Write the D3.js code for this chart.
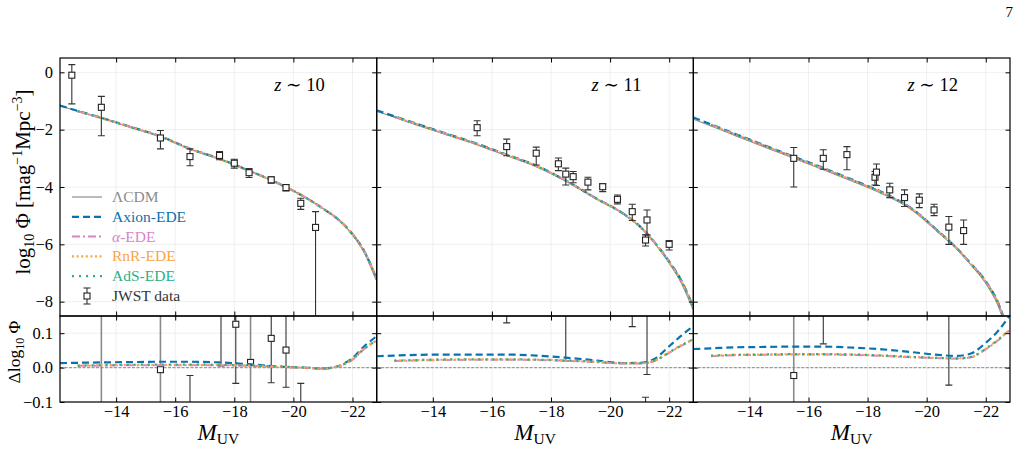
<!DOCTYPE html>
<html>
<head>
<meta charset="utf-8">
<script src="https://cdn.jsdelivr.net/npm/d3@7"></script>
<style>
  body { margin: 0; background: #fff; }
  svg text { font-family: "Liberation Serif", "DejaVu Serif", serif; }
</style>
</head>
<body>
<svg id="fig" width="1022" height="476"></svg>
<script>
// ---- data ----
const mGrid = [-12.1, -12.7, -13.5, -14.5, -15.5, -16.5, -17.5, -18.5, -19.5, -20.5, -21, -21.5, -22, -22.4, -22.8];

const lcdm10 = [-1.17, -1.36, -1.6, -1.92, -2.25, -2.68, -3.03, -3.44, -3.88, -4.42, -4.75, -5.12, -5.67, -6.3, -7.25];
const lcdm11 = [-1.36, -1.57, -1.85, -2.19, -2.53, -2.91, -3.29, -3.8, -4.4, -4.98, -5.38, -5.95, -6.66, -7.33, -8.26];
const lcdm12 = [-1.63, -1.87, -2.2, -2.6, -3.0, -3.4, -3.81, -4.24, -4.8, -5.68, -6.15, -6.72, -7.36, -8.1, -9.3];

// delta log10 Phi relative to LCDM
const dAxion10 = [0.013, 0.014, 0.015, 0.016, 0.017, 0.017, 0.015, 0.01, 0.003, -0.001, -0.003, 0.004, 0.028, 0.062, 0.09];
const dAlpha10 = [null, 0.005, 0.006, 0.007, 0.007, 0.007, 0.007, 0.005, 0.002, -0.001, -0.003, 0.003, 0.023, 0.054, 0.077];
const dRnr10   = [null, 0.006, 0.007, 0.008, 0.008, 0.008, 0.008, 0.006, 0.002, -0.001, -0.003, 0.004, 0.025, 0.056, 0.079];
const dAds10   = [null, 0.006, 0.007, 0.008, 0.009, 0.009, 0.008, 0.006, 0.003, 0.0, -0.002, 0.004, 0.024, 0.055, 0.078];

const dAxion11 = [0.033, 0.035, 0.037, 0.038, 0.038, 0.038, 0.035, 0.029, 0.021, 0.013, 0.014, 0.025, 0.062, 0.092, 0.12];
const dAlpha11 = [null, 0.019, 0.021, 0.022, 0.023, 0.023, 0.022, 0.02, 0.016, 0.012, 0.012, 0.019, 0.043, 0.063, 0.08];
const dRnr11   = [null, 0.02, 0.022, 0.023, 0.024, 0.024, 0.023, 0.021, 0.017, 0.012, 0.012, 0.02, 0.045, 0.065, 0.082];
const dAds11   = [null, 0.02, 0.022, 0.024, 0.024, 0.024, 0.023, 0.021, 0.017, 0.013, 0.013, 0.02, 0.044, 0.064, 0.082];

const dAxion12 = [0.054, 0.056, 0.059, 0.06, 0.061, 0.061, 0.058, 0.053, 0.045, 0.036, 0.034, 0.041, 0.072, 0.105, 0.15];
const dAlpha12 = [null, 0.033, 0.036, 0.037, 0.038, 0.038, 0.037, 0.034, 0.03, 0.027, 0.026, 0.03, 0.053, 0.078, 0.108];
const dRnr12   = [null, 0.034, 0.037, 0.038, 0.039, 0.039, 0.038, 0.035, 0.031, 0.028, 0.027, 0.031, 0.055, 0.08, 0.11];
const dAds12   = [null, 0.035, 0.037, 0.038, 0.039, 0.039, 0.038, 0.035, 0.031, 0.028, 0.027, 0.031, 0.055, 0.08, 0.11];

// JWST points: [M_UV, log10 Phi, err up, err down]
const jwst10 = [
  [-12.5, -0.1, 0.37, 1.0], [-13.5, -1.22, 0.38, 0.99], [-15.5, -2.29, 0.26, 0.38],
  [-16.5, -2.94, 0.27, 0.32], [-17.5, -2.9, 0.14, 0.15], [-18.0, -3.17, 0.14, 0.17],
  [-18.5, -3.5, 0.14, 0.17], [-19.25, -3.75, 0.11, 0.12], [-19.75, -4.02, 0.1, 0.12],
  [-20.25, -4.57, 0.18, 0.21], [-20.75, -5.41, 0.55, 4.0]
];
const jwst11 = [
  [-15.5, -1.93, 0.24, 0.28], [-16.5, -2.59, 0.26, 0.32], [-17.5, -2.82, 0.21, 0.41],
  [-18.25, -3.19, 0.2, 0.24], [-18.5, -3.55, 0.21, 0.38], [-18.75, -3.64, 0.18, 0.21],
  [-19.25, -3.83, 0.17, 0.27], [-19.75, -3.99, 0.1, 0.17], [-20.25, -4.43, 0.15, 0.16],
  [-20.75, -4.86, 0.26, 0.31], [-21.25, -5.15, 0.35, 0.52], [-21.2, -5.85, 0.18, 0.21],
  [-22.0, -6.0, 0.13, 0.2]
];
const jwst12 = [
  [-15.5, -3.0, 0.38, 1.0], [-16.5, -3.0, 0.3, 0.38], [-17.3, -2.87, 0.28, 0.53],
  [-18.25, -3.66, 0.2, 0.27], [-18.3, -3.48, 0.28, 0.47], [-18.75, -4.1, 0.23, 0.27],
  [-19.25, -4.37, 0.27, 0.31], [-19.75, -4.46, 0.22, 0.26], [-20.25, -4.8, 0.2, 0.2],
  [-20.75, -5.4, 0.37, 0.6], [-21.25, -5.52, 0.37, 0.48]
];

// residual panel points: [M_UV, delta, err up, err down]
const res10 = [
  [-13.5, 0.4, 0.6, 0.6], [-15.5, -0.006, 0.4, 0.4], [-16.5, -0.3, 0.277, 0.3],
  [-17.55, 0.3, 0.3, 0.295], [-18.05, 0.126, 0.2, 0.172], [-18.55, 0.015, 0.4, 0.4],
  [-19.25, 0.085, 0.2, 0.129], [-19.75, 0.051, 0.2, 0.108], [-20.25, -0.26, 0.214, 0.2]
];
const res11 = [
  [-16.5, 0.3, 0.3, 0.17], [-18.5, 0.3, 0.3, 0.281], [-20.75, 0.3, 0.3, 0.181],
  [-21.25, 0.3, 0.3, 0.32], [-21.2, -0.4, 0.314, 0.3]
];
const res12 = [
  [-15.5, -0.023, 0.5, 0.5], [-16.5, 0.3, 0.3, 0.231], [-20.75, 0.3, 0.3, 0.351]
];

const redshifts = ["10", "11", "12"];
const xTicks = [-14, -16, -18, -20, -22];
const yTicks = [0, -2, -4, -6, -8];
const resTicks = [0.1, 0, -0.1];
const modelNames = ["ΛCDM", "Axion-EDE", "α-EDE", "RnR-EDE", "AdS-EDE"];

// ---- layout ----
const svg = d3.select("#fig");
const panelLeft = [60, 376.7, 693.3];
const panelW = 316.7;
const mainTop = 58, mainBot = 316, resBot = 402;
const fontFam = "'Liberation Serif', 'DejaVu Serif', serif";
const minus = (v) => String(v).replace("-", "\u2212");

const modelStyle = [
  { color: "#8c8c8c", dash: null, width: 1.1 },
  { color: "#0a72b0", dash: "7,4", width: 2.2 },
  { color: "#d884c8", dash: "8,3,2,3", width: 2 },
  { color: "#fba441", dash: "2,2.6", width: 2.2 },
  { color: "#2eb087", dash: "2,5", width: 2.2 }
];

const panels = [
  { z: redshifts[0], lcdm: lcdm10, deltas: [dAxion10, dAlpha10, dRnr10, dAds10], jwst: jwst10, res: res10 },
  { z: redshifts[1], lcdm: lcdm11, deltas: [dAxion11, dAlpha11, dRnr11, dAds11], jwst: jwst11, res: res11 },
  { z: redshifts[2], lcdm: lcdm12, deltas: [dAxion12, dAlpha12, dRnr12, dAds12], jwst: jwst12, res: res12 }
];

const yMain = d3.scaleLinear().domain([-8.5, 0.5]).range([mainBot, mainTop]);
const yRes = d3.scaleLinear().domain([-0.1, 0.15]).range([resBot, mainBot]);

const defs = svg.append("defs");

function styleAxis(g) {
  g.select(".domain").remove();
  g.attr("font-family", fontFam).attr("font-size", 16.5);
  g.selectAll("line").attr("stroke", "#000").attr("stroke-width", 1);
  g.selectAll("text").attr("fill", "#000");
}

function drawErrorBars(g, pts, x, y, capW, isRes) {
  pts.forEach(d => {
    const yTop = y(d[1] + d[2]), yBot = y(d[1] - d[3]);
    const full = isRes && d[1] + d[2] > 0.15 && d[1] - d[3] < -0.1;
    const col = full ? "#8a8a8a" : "#333";
    g.append("line")
      .attr("x1", x(d[0])).attr("x2", x(d[0]))
      .attr("y1", yTop).attr("y2", yBot)
      .attr("stroke", col).attr("stroke-width", full ? 1.6 : 1.1);
    [yTop, yBot].forEach(yy => {
      g.append("line")
        .attr("x1", x(d[0]) - capW).attr("x2", x(d[0]) + capW)
        .attr("y1", yy).attr("y2", yy)
        .attr("stroke", col).attr("stroke-width", 1.1);
    });
    g.append("rect")
      .attr("x", x(d[0]) - 3).attr("y", y(d[1]) - 3)
      .attr("width", 6).attr("height", 6)
      .attr("fill", "#fff").attr("stroke", "#222").attr("stroke-width", 1.1);
  });
}

panels.forEach((p, i) => {
  const x0 = panelLeft[i];
  const x = d3.scaleLinear().domain([-12.1, -22.82]).range([x0, x0 + panelW]);

  defs.append("clipPath").attr("id", "cm" + i)
    .append("rect").attr("x", x0).attr("y", mainTop).attr("width", panelW).attr("height", mainBot - mainTop);
  defs.append("clipPath").attr("id", "cr" + i)
    .append("rect").attr("x", x0).attr("y", mainBot).attr("width", panelW).attr("height", resBot - mainBot);

  // grid
  const grid = svg.append("g").attr("stroke", "#ebebeb").attr("stroke-width", 0.8);
  xTicks.forEach(t => {
    grid.append("line").attr("x1", x(t)).attr("x2", x(t)).attr("y1", mainTop).attr("y2", resBot);
  });
  yTicks.forEach(t => {
    grid.append("line").attr("x1", x0).attr("x2", x0 + panelW).attr("y1", yMain(t)).attr("y2", yMain(t));
  });
  resTicks.forEach(t => {
    grid.append("line").attr("x1", x0).attr("x2", x0 + panelW).attr("y1", yRes(t)).attr("y2", yRes(t));
  });

  // model curves, main panel
  const gMain = svg.append("g").attr("clip-path", `url(#cm${i})`);
  const line = d3.line()
    .defined(d => d[1] != null)
    .x(d => x(d[0])).y(d => yMain(d[1]))
    .curve(d3.curveMonotoneX);
  const series = [mGrid.map((m, k) => [m, p.lcdm[k]])];
  p.deltas.forEach(dl => {
    series.push(mGrid.map((m, k) => [m, dl[k] == null ? null : p.lcdm[k] + dl[k]]));
  });
  series.forEach((s, k) => {
    gMain.append("path").datum(s)
      .attr("d", line)
      .attr("fill", "none")
      .attr("stroke", modelStyle[k].color)
      .attr("stroke-width", modelStyle[k].width)
      .attr("stroke-dasharray", modelStyle[k].dash);
  });
  drawErrorBars(gMain, p.jwst, x, yMain, 3.5, false);

  // residual panel
  const gRes = svg.append("g").attr("clip-path", `url(#cr${i})`);
  const rline = d3.line()
    .defined(d => d[1] != null)
    .x(d => x(d[0])).y(d => yRes(d[1]))
    .curve(d3.curveMonotoneX);
  gRes.append("path").datum(mGrid.map(m => [m, 0]))
    .attr("d", rline).attr("fill", "none")
    .attr("stroke", "#9a9a9a").attr("stroke-width", 1.2).attr("stroke-dasharray", "3,1.5");
  drawErrorBars(gRes, p.res, x, yRes, 3.5, true);
  p.deltas.forEach((dl, k) => {
    const st = modelStyle[k + 1];
    gRes.append("path").datum(mGrid.map((m, j) => [m, dl[j]]))
      .attr("d", rline).attr("fill", "none")
      .attr("stroke", st.color).attr("stroke-width", st.width)
      .attr("stroke-dasharray", st.dash);
  });

  // frames
  svg.append("rect").attr("x", x0).attr("y", mainTop).attr("width", panelW).attr("height", mainBot - mainTop)
    .attr("fill", "none").attr("stroke", "#000").attr("stroke-width", 1.2);
  svg.append("rect").attr("x", x0).attr("y", mainBot).attr("width", panelW).attr("height", resBot - mainBot)
    .attr("fill", "none").attr("stroke", "#000").attr("stroke-width", 1.2);

  // ticks (inward, all sides)
  const noLab = () => "";
  [[mainTop, d3.axisTop, false], [mainBot, d3.axisBottom, false], [mainBot, d3.axisTop, false], [resBot, d3.axisBottom, true]]
    .forEach(([yy, ax, lab]) => {
      const a = ax(x).tickValues(xTicks).tickSizeInner(-4.5).tickSizeOuter(0).tickPadding(3)
        .tickFormat(lab ? minus : noLab);
      svg.append("g").attr("transform", `translate(0,${yy})`).call(a).call(styleAxis);
    });
  [[x0, d3.axisLeft, i === 0], [x0 + panelW, d3.axisRight, false]].forEach(([xx, ax, lab]) => {
    const a = ax(yMain).tickValues(yTicks).tickSizeInner(-4.5).tickSizeOuter(0).tickPadding(7)
      .tickFormat(lab ? minus : noLab);
    svg.append("g").attr("transform", `translate(${xx},0)`).call(a).call(styleAxis);
    const r = ax(yRes).tickValues(resTicks).tickSizeInner(-4.5).tickSizeOuter(0).tickPadding(7)
      .tickFormat(lab ? (v => minus(d3.format(".1f")(v))) : noLab);
    svg.append("g").attr("transform", `translate(${xx},0)`).call(r).call(styleAxis);
  });

  // redshift label
  const zt = svg.append("text")
    .attr("x", x0 + panelW - 52).attr("y", 91)
    .attr("text-anchor", "end").attr("font-size", 18.5).attr("font-family", fontFam);
  zt.append("tspan").attr("font-style", "italic").text("z");
  zt.append("tspan").text(" \u223C " + p.z);

  // x label
  const xl = svg.append("text")
    .attr("x", x0 + panelW / 2).attr("y", 440)
    .attr("text-anchor", "middle").attr("font-size", 23).attr("font-family", fontFam);
  xl.append("tspan").attr("font-style", "italic").text("M");
  xl.append("tspan").attr("font-size", 15.5).attr("dy", 4).text("UV");
});

// y labels
const yl = svg.append("text")
  .attr("transform", "translate(30,182) rotate(-90)")
  .attr("text-anchor", "middle").attr("font-size", 21).attr("font-family", fontFam);
yl.append("tspan").text("log");
yl.append("tspan").attr("font-size", 14).attr("dy", 4).text("10");
yl.append("tspan").attr("dy", -4).text(" Φ [mag");
yl.append("tspan").attr("font-size", 14).attr("dy", -8).text("\u22121");
yl.append("tspan").attr("dy", 8).text("Mpc");
yl.append("tspan").attr("font-size", 14).attr("dy", -8).text("\u22123");
yl.append("tspan").attr("dy", 8).text("]");

const rl = svg.append("text")
  .attr("transform", "translate(20,352) rotate(-90)")
  .attr("text-anchor", "middle").attr("font-size", 17.5).attr("font-family", fontFam);
rl.append("tspan").text("Δlog");
rl.append("tspan").attr("font-size", 12).attr("dy", 3.5).text("10");
rl.append("tspan").attr("dy", -3.5).text(" Φ");

// legend
const leg = svg.append("g").attr("font-family", fontFam).attr("font-size", 15.5);
const legY0 = 197, legDy = 19.8;
modelNames.forEach((name, k) => {
  const yy = legY0 + k * legDy;
  const st = modelStyle[k];
  leg.append("line").attr("x1", 72).attr("x2", 102).attr("y1", yy).attr("y2", yy)
    .attr("stroke", st.color).attr("stroke-width", k === 0 ? 1.2 : st.width)
    .attr("stroke-dasharray", st.dash);
  const t = leg.append("text").attr("x", 112).attr("y", yy + 5).attr("fill", st.color);
  if (name.startsWith("α")) {
    t.append("tspan").attr("font-style", "italic").text("α");
    t.append("tspan").text(name.slice(1));
  } else {
    t.text(name);
  }
});
{
  const yy = legY0 + 5 * legDy;
  leg.append("line").attr("x1", 87).attr("x2", 87).attr("y1", yy - 8).attr("y2", yy + 8)
    .attr("stroke", "#333").attr("stroke-width", 1.1);
  [yy - 8, yy + 8].forEach(c => leg.append("line").attr("x1", 83.5).attr("x2", 90.5)
    .attr("y1", c).attr("y2", c).attr("stroke", "#333").attr("stroke-width", 1.1));
  leg.append("rect").attr("x", 84).attr("y", yy - 3).attr("width", 6).attr("height", 6)
    .attr("fill", "#fff").attr("stroke", "#222").attr("stroke-width", 1.1);
  leg.append("text").attr("x", 112).attr("y", yy + 5).attr("fill", "#333").text("JWST data");
}

// page number
svg.append("text").attr("x", 1013).attr("y", 17).attr("text-anchor", "end")
  .attr("font-size", 15).attr("font-family", fontFam).text("7");
</script>
</body>
</html>
